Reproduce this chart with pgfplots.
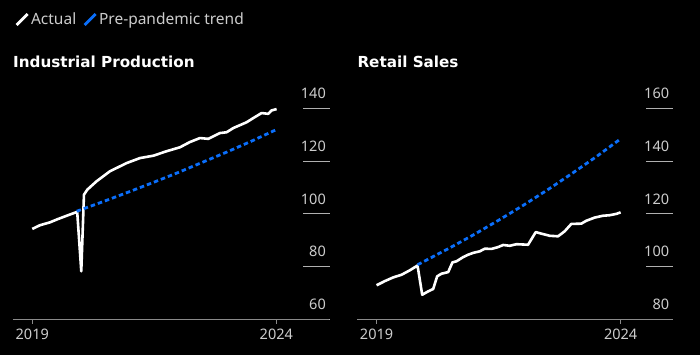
\documentclass[border=0pt]{standalone}
\usepackage{pgfplots}
\pgfplotsset{compat=1.18}
\usepackage{fontspec}
\setmainfont{Noto Sans}
\newfontfamily\tfont{DejaVu Sans}
\definecolor{trendblue}{HTML}{0A6EFA}
\definecolor{txt}{HTML}{CCCCCC}
\definecolor{axgray}{HTML}{8A8A8A}
\definecolor{gridgray}{HTML}{B0B0B0}
\pgfplotsset{
  panel/.style={
    scale only axis, width=316pt, height=226.5pt,
    xmin=-0.395, xmax=6.08,
    axis x line*=bottom, axis y line=none,
    x axis line style={draw=axgray, line width=0.9pt, -},
    xtick={0,5}, xticklabels={2019,2024},
    tick align=outside, major tick length=5pt,
    every major x tick/.style={draw=axgray, line width=0.9pt},
    xticklabel style={font=\fontsize{14.5}{14.5}\selectfont, text=txt, yshift=-1pt},
    /pgf/number format/assume math mode=true,
    clip=false,
  },
  grid/.style={
    scale only axis, width=27pt, height=226.5pt,
    xmin=0, xmax=1, xtick=\empty,
    axis line style={draw=none},
    ymajorgrids, grid style={draw=gridgray, line width=0.9pt},
    major tick length=0pt,
    yticklabel pos=right,
    /pgf/number format/assume math mode=true,
    yticklabel style={anchor=south east, font=\fontsize{14.5}{14.5}\selectfont, text=txt, xshift=-2pt, inner sep=2pt, yshift=7pt},
  },
  actual/.style={white, line width=2.6pt, line join=round},
  trend/.style={trendblue, line width=2.8pt, dash pattern=on 4.5pt off 3pt},
  ptitle/.style={title style={at={(axis description cs:0,1.086)}, anchor=base west, inner sep=0pt, text=white, font=\tfont\bfseries\fontsize{15.2}{15.2}\selectfont}},
}
\begin{document}
\begin{tikzpicture}
\fill[black] (0pt,0pt) rectangle (700pt,355pt);
% Left panel grid labels
\begin{axis}[grid, at={(303pt,36pt)}, anchor=south west, ymin=60, ymax=146, ytick={60,80,100,120,140}]
\end{axis}
\begin{axis}[panel, at={(13pt,36pt)}, anchor=south west, ymin=60, ymax=146,
  title={Industrial Production}, ptitle,
  legend style={at={(axis description cs:-0.003,1.37)}, anchor=north west, draw=none, fill=none, text=txt, font=\fontsize{15.5}{15.5}\selectfont, legend columns=-1, /tikz/every even column/.style={column sep=5pt}},
  legend image code/.code={\draw[#1, solid, line cap=butt, line width=2.8pt] (0pt,-5.5pt) -- (11pt,5.5pt);},
]
\addplot[actual] coordinates {
(0.000,94.2) (0.157,95.6) (0.362,96.7) (0.533,98.0) (0.704,99.2) (0.908,100.6) (0.922,100.3)
(1.004,78.1) (1.059,107.2) (1.127,109.1) (1.318,112.3) (1.592,116.1) (1.933,119.2) (2.206,121.1)
(2.480,122.0) (2.753,123.7) (3.026,125.2) (3.231,127.2) (3.436,128.7) (3.607,128.4) (3.846,130.6)
(3.982,130.9) (4.119,132.5) (4.392,134.7) (4.529,136.3) (4.699,138.2) (4.836,137.9) (4.904,139.2) (5.007,139.7)
};
\addlegendentry{Actual}
\addplot[trend] coordinates {
(0.91,100.9) (1.5,104.9) (2.0,108.4) (2.5,112.0) (3.0,115.7) (3.5,119.6) (4.0,123.5) (4.5,127.6) (5.0,131.9)
};
\addlegendentry{Pre-pandemic trend}
\end{axis}
% Right panel
\begin{axis}[grid, at={(646.3pt,36pt)}, anchor=south west, ymin=80, ymax=166, ytick={80,100,120,140,160}]
\end{axis}
\begin{axis}[panel, at={(357.3pt,36pt)}, anchor=south west, ymin=80, ymax=166,
  title={Retail Sales}, ptitle,
]
\addplot[actual] coordinates {
(0.000,92.8) (0.171,94.4) (0.341,95.8) (0.512,96.8) (0.682,98.5) (0.839,100.3) (0.935,89.2)
(1.057,90.5) (1.160,91.4) (1.241,96.2) (1.330,97.2) (1.467,97.8) (1.555,101.5) (1.637,101.9)
(1.774,103.5) (1.876,104.4) (1.978,105.1) (2.115,105.7) (2.217,106.7) (2.353,106.6) (2.490,107.3)
(2.592,108.1) (2.729,107.8) (2.865,108.4) (3.104,108.2) (3.261,113.0) (3.377,112.4) (3.547,111.6)
(3.718,111.4) (3.854,113.3) (3.990,116.1) (4.195,116.2) (4.297,117.3) (4.468,118.5) (4.638,119.2)
(4.775,119.4) (4.911,119.9) (5.000,120.5)
};
\addplot[trend] coordinates {
(0.84,100.6) (1.5,107.0) (2.0,112.1) (2.5,117.5) (3.0,123.1) (3.5,129.0) (4.0,135.2) (4.5,141.6) (5.0,148.4)
};
\end{axis}
\end{tikzpicture}
\end{document}
